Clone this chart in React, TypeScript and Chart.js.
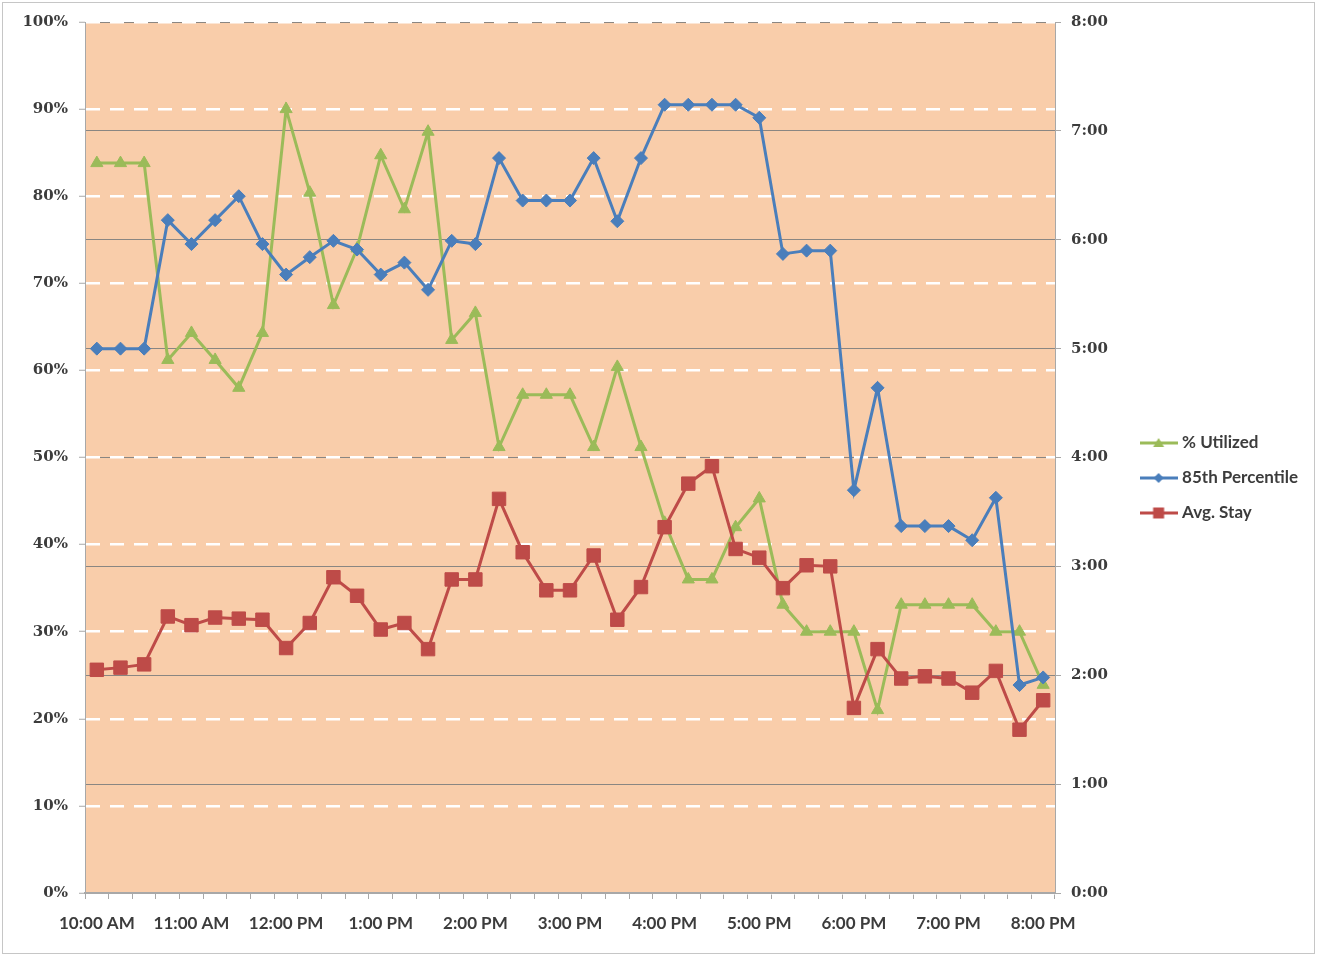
import React, { useEffect, useRef } from 'react';
import { Chart, registerables } from 'chart.js';

Chart.register(...registerables);

const categories = [
  '10:00 AM', '10:15 AM', '10:30 AM', '10:45 AM',
  '11:00 AM', '11:15 AM', '11:30 AM', '11:45 AM',
  '12:00 PM', '12:15 PM', '12:30 PM', '12:45 PM',
  '1:00 PM', '1:15 PM', '1:30 PM', '1:45 PM',
  '2:00 PM', '2:15 PM', '2:30 PM', '2:45 PM',
  '3:00 PM', '3:15 PM', '3:30 PM', '3:45 PM',
  '4:00 PM', '4:15 PM', '4:30 PM', '4:45 PM',
  '5:00 PM', '5:15 PM', '5:30 PM', '5:45 PM',
  '6:00 PM', '6:15 PM', '6:30 PM', '6:45 PM',
  '7:00 PM', '7:15 PM', '7:30 PM', '7:45 PM',
  '8:00 PM',
];

const xTickLabels = [
  '10:00 AM', '11:00 AM', '12:00 PM', '1:00 PM', '2:00 PM', '3:00 PM',
  '4:00 PM', '5:00 PM', '6:00 PM', '7:00 PM', '8:00 PM',
];

const seriesNames = ['% Utilized', '85th Percentile', 'Avg. Stay'];

// % Utilized (left axis, percent)
const utilized = [
  83.8, 83.8, 83.8, 61.2, 64.3, 61.2, 58.0, 64.3, 90.0, 80.4,
  67.5, 74.0, 84.7, 78.5, 87.4, 63.5, 66.6, 51.2, 57.2, 57.2,
  57.2, 51.2, 60.4, 51.2, 42.5, 36.0, 36.0, 42.0, 45.3, 33.1,
  30.0, 30.0, 30.0, 21.0, 33.1, 33.1, 33.1, 33.1, 30.0, 30.0, 23.9,
];

// 85th Percentile stay (right axis, hours)
const percentile85 = [
  5.0, 5.0, 5.0, 6.18, 5.96, 6.18, 6.40, 5.96, 5.68, 5.84,
  5.99, 5.91, 5.68, 5.79, 5.54, 5.99, 5.96, 6.75, 6.36, 6.36,
  6.36, 6.75, 6.17, 6.75, 7.24, 7.24, 7.24, 7.24, 7.12, 5.87,
  5.90, 5.90, 3.70, 4.64, 3.37, 3.37, 3.37, 3.24, 3.63, 1.91, 1.98,
];

// Avg. Stay (right axis, hours)
const avgStay = [
  2.05, 2.07, 2.10, 2.54, 2.46, 2.53, 2.52, 2.51, 2.25, 2.48,
  2.90, 2.73, 2.42, 2.48, 2.24, 2.88, 2.88, 3.62, 3.13, 2.78,
  2.78, 3.10, 2.51, 2.81, 3.36, 3.76, 3.92, 3.16, 3.08, 2.80,
  3.01, 3.00, 1.70, 2.24, 1.97, 1.99, 1.97, 1.84, 2.04, 1.50, 1.77,
];

const leftTicks = { min: 0, max: 100, step: 10 };
const rightTicks = { min: 0, max: 8, step: 1 };

const GREEN = '#9BBB59';
const BLUE = '#4A7EBB';
const RED = '#BE4B48';
const PLOT_BG = '#F9CDAA';
const AXIS_GRAY = '#a8a8a8';
const TEXT = '#3c3c3c';

function makeLegendIcon(color: string, shape: string) {
  const c = document.createElement('canvas');
  c.width = 38;
  c.height = 16;
  const g = c.getContext('2d')!;
  g.strokeStyle = color;
  g.lineWidth = 3;
  g.beginPath();
  g.moveTo(0, 8);
  g.lineTo(38, 8);
  g.stroke();
  g.fillStyle = color;
  g.beginPath();
  if (shape === 'triangle') {
    g.moveTo(19, 3);
    g.lineTo(24.5, 12);
    g.lineTo(13.5, 12);
  } else if (shape === 'rectRot') {
    g.moveTo(19, 3);
    g.lineTo(24, 8);
    g.lineTo(19, 13);
    g.lineTo(14, 8);
  } else {
    g.rect(13.5, 2.5, 11, 11);
  }
  g.closePath();
  g.fill();
  return c;
}

export default function App() {
  const ref = useRef<HTMLCanvasElement>(null);

  useEffect(() => {
    const canvas = ref.current!;
    const colors = [GREEN, BLUE, RED];
    const shapes = ['triangle', 'rectRot', 'rect'];
    const icons = colors.map((c, i) => makeLegendIcon(c, shapes[i]));

    const bgPlugin = {
      id: 'bgPlugin',
      beforeDraw(chart: any) {
        const { ctx, chartArea: a } = chart;
        ctx.save();
        ctx.fillStyle = '#ffffff';
        ctx.fillRect(0, 0, chart.width, chart.height);
        ctx.fillStyle = PLOT_BG;
        ctx.fillRect(a.left, a.top, a.right - a.left, a.bottom - a.top);
        ctx.strokeStyle = '#c6c6c6';
        ctx.lineWidth = 1;
        ctx.strokeRect(2.5, 2.5, chart.width - 5, chart.height - 5);
        ctx.restore();
      },
    };

    const serifFont = { family: "'DejaVu Serif', serif", size: 15, weight: 'bold' as const };
    const sansFont = { family: "Lato, 'DejaVu Sans', sans-serif", size: 17, weight: 'bold' as const };

    const chart = new Chart(canvas, {
      type: 'line',
      data: {
        labels: categories,
        datasets: [
          {
            label: seriesNames[0],
            data: utilized,
            yAxisID: 'y',
            borderColor: GREEN,
            backgroundColor: GREEN,
            borderWidth: 3,
            pointStyle: 'triangle',
            pointRadius: 7,
            pointBackgroundColor: GREEN,
            pointBorderColor: GREEN,
            pointBorderWidth: 1,
            tension: 0,
            order: 3,
          },
          {
            label: seriesNames[1],
            data: percentile85,
            yAxisID: 'y2',
            borderColor: BLUE,
            backgroundColor: BLUE,
            borderWidth: 3,
            pointStyle: 'rectRot',
            pointRadius: 6.5,
            pointBackgroundColor: BLUE,
            pointBorderColor: BLUE,
            pointBorderWidth: 1,
            tension: 0,
            order: 2,
          },
          {
            label: seriesNames[2],
            data: avgStay,
            yAxisID: 'y2',
            borderColor: RED,
            backgroundColor: RED,
            borderWidth: 3,
            pointStyle: 'rect',
            pointRadius: 9.5,
            pointBackgroundColor: RED,
            pointBorderColor: RED,
            pointBorderWidth: 1,
            tension: 0,
            order: 1,
          },
        ],
      },
      options: {
        responsive: false,
        animation: false,
        layout: { padding: { top: 22, bottom: 22, left: 0, right: 9 } },
        plugins: {
          tooltip: { enabled: false },
          legend: {
            position: 'right',
            align: 'center',
            labels: {
              usePointStyle: true,
              pointStyleWidth: 30,
              padding: 18,
              color: TEXT,
              font: sansFont,
              generateLabels: () =>
                seriesNames.map((name, i) => ({
                  text: name,
                  pointStyle: icons[i] as any,
                  fillStyle: colors[i],
                  strokeStyle: colors[i],
                  fontColor: TEXT,
                  lineWidth: 0,
                  hidden: false,
                  datasetIndex: i,
                })),
            },
          },
        },
        scales: {
          x: {
            type: 'category',
            offset: true,
            grid: {
              offset: true,
              drawOnChartArea: false,
              drawTicks: true,
              tickLength: 6,
              tickColor: AXIS_GRAY,
              tickWidth: 1,
            },
            border: { display: true, color: AXIS_GRAY, width: 2 },
            ticks: {
              autoSkip: false,
              maxRotation: 0,
              minRotation: 0,
              padding: 14,
              color: TEXT,
              font: sansFont,
              callback: (_v: any, i: number) =>
                xTickLabels.includes(categories[i]) ? categories[i] : '',
            },
            afterFit: (s: any) => {
              s.height = 41;
            },
          },
          y: {
            position: 'left',
            min: leftTicks.min,
            max: leftTicks.max,
            ticks: {
              stepSize: leftTicks.step,
              padding: 11,
              color: TEXT,
              font: serifFont,
              callback: (v: any) => `${v}%`,
            },
            grid: {
              color: '#ffffff',
              lineWidth: 2.5,
              z: -1,
              tickLength: 6,
              tickColor: AXIS_GRAY,
              tickWidth: 1,
              tickBorderDash: [],
            },
            border: { display: true, color: AXIS_GRAY, width: 1, dash: [14, 10] },
            afterFit: (s: any) => {
              s.width = 85;
            },
          },
          y2: {
            position: 'right',
            min: rightTicks.min,
            max: rightTicks.max,
            ticks: {
              stepSize: rightTicks.step,
              padding: 10,
              color: TEXT,
              font: serifFont,
              callback: (v: any) => `${v}:00`,
            },
            grid: {
              color: '#8a8682',
              lineWidth: 1,
              z: -2,
              tickLength: 6,
              tickColor: AXIS_GRAY,
              tickWidth: 1,
            },
            border: { display: true, color: AXIS_GRAY, width: 1 },
            afterFit: (s: any) => {
              const lw = s.chart.legend ? s.chart.legend.width : 180;
              s.width = Math.max(40, 1317 - 9 - lw - 1055);
            },
          },
        },
      },
      plugins: [bgPlugin],
    } as any);

    return () => chart.destroy();
  }, []);

  return (
    <div style={{ position: 'absolute', left: 0, top: 0, width: 1317, height: 956, background: '#fff' }}>
      <canvas ref={ref} width={1317} height={956} style={{ display: 'block' }} />
    </div>
  );
}
